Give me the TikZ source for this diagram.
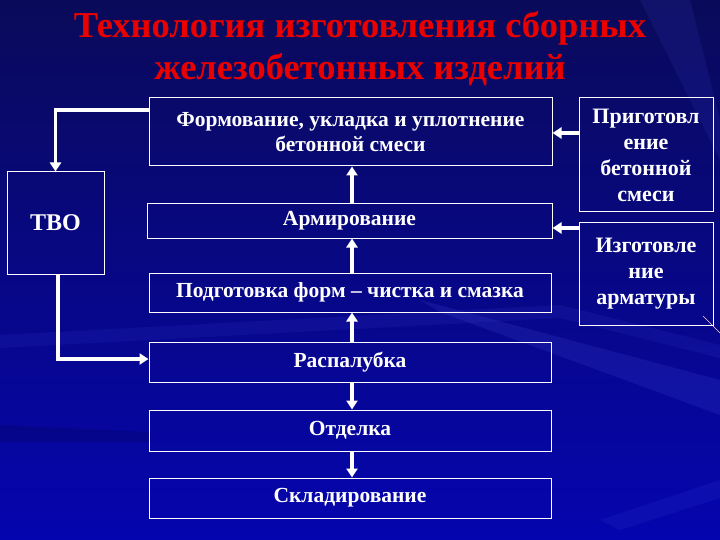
\documentclass[tikz,border=0pt]{standalone}
\usepackage{fontspec}
\setmainfont{Liberation Serif}
\usetikzlibrary{arrows.meta,positioning,calc}
\definecolor{bgtop}{RGB}{10,10,90}
\definecolor{bgmid}{RGB}{8,8,140}
\definecolor{bgbot}{RGB}{5,5,175}
\definecolor{streak}{RGB}{70,80,220}
\definecolor{titlered}{RGB}{235,0,0}
\tikzset{
  box/.style={draw=white, line width=1pt, text=white, font=\bfseries\fontsize{21.5}{25}\selectfont, align=center, inner sep=0pt},
  sidebox/.style={box, font=\bfseries\fontsize{22}{26}\selectfont},
  conn/.style={draw=white, line width=3.2pt, -{Triangle[width=11pt,length=9pt]}},
  ttl/.style={text=titlered, font=\bfseries\fontsize{36.5}{42}\selectfont, align=center}
}
\begin{document}
\begin{tikzpicture}[x=1pt,y=-1pt]
\useasboundingbox (0,0) rectangle (720,540);
% background
\shade[top color=bgtop, middle color=bgmid, bottom color=bgbot] (0,0) rectangle (720,540);
\fill[streak, opacity=0.18] (420,300) -- (720,380) -- (720,415) -- (440,312) -- cycle;
\fill[streak, opacity=0.12] (0,335) -- (560,305) -- (720,345) -- (720,358) -- (560,318) -- (0,348) -- cycle;
\fill[streak, opacity=0.12] (600,520) -- (720,480) -- (720,498) -- (620,530) -- cycle;
\fill[black, opacity=0.12] (0,425) -- (150,432) -- (150,442) -- (0,442) -- cycle;
\fill[streak, opacity=0.12] (640,0) -- (690,0) -- (720,120) -- (720,160) -- cycle;
% title
\node[ttl] (t1) at (360,28) {Технология изготовления сборных};
\node[ttl] (t2) at (360,70) {железобетонных изделий};
% main column
\node[box, minimum width=403pt, minimum height=68pt] (form) at (350.5,132) {Формование, укладка и уплотнение\\бетонной смеси};
\node[box, minimum width=405pt, minimum height=34pt] (arm) at (349.5,221) {Армирование};
\node[box, minimum width=402pt, minimum height=39pt] (podg) at (350,292.5) {Подготовка форм -- чистка и смазка};
\node[box, minimum width=402pt, minimum height=40pt] (rasp) at (350,362) {Распалубка};
\node[box, minimum width=402pt, minimum height=41pt] (otd) at (350,430.5) {Отделка};
\node[box, minimum width=402pt, minimum height=40pt] (skl) at (350,498) {Складирование};
% TVO
\node[box, font=\bfseries\fontsize{24}{28}\selectfont, minimum width=97pt, minimum height=102pt] (tvo) at (55.5,223) {ТВО};
% side boxes
\node[sidebox, minimum width=134pt, minimum height=114pt] (prig) at (646,155) {Приготовл\\ение\\бетонной\\смеси};
\node[sidebox, minimum width=134pt, minimum height=102pt] (izg) at (646,274) {Изготовле\\ние\\арматуры};
% decorative thin line
\draw[pink!70!white, line width=0.6pt] (703,316) -- (720,333);
% connectors
\coordinate (c1) at (58,110);
\draw[conn] (form.west |- c1) -| (tvo.north);
\coordinate (c2) at (58,359);
\draw[conn] (tvo.south -| c1) |- (rasp.west |- c2);
\draw[conn] (arm.north -| 352,0) -- (form.south -| 352,0);
\draw[conn] (podg.north -| 352,0) -- (arm.south -| 352,0);
\draw[conn] (rasp.north -| 352,0) -- (podg.south -| 352,0);
\draw[conn] (rasp.south -| 352,0) -- (otd.north -| 352,0);
\draw[conn] (otd.south -| 352,0) -- (skl.north -| 352,0);
\coordinate (c3) at (0,133);
\draw[conn] (prig.west |- c3) -- (form.east |- c3);
\coordinate (c4) at (0,228);
\draw[conn] (izg.west |- c4) -- (arm.east |- c4);
\end{tikzpicture}
\end{document}
